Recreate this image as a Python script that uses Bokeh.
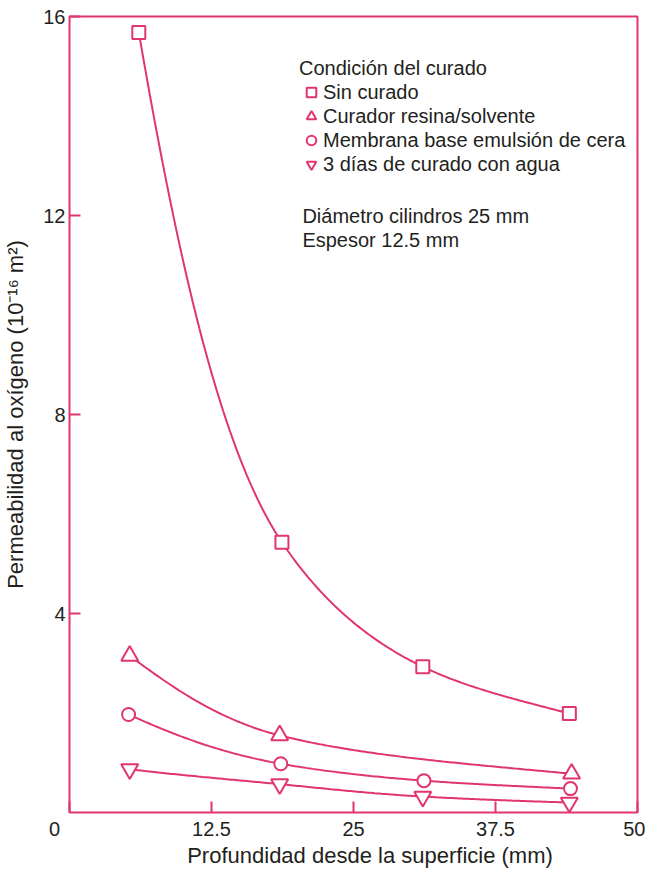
import numpy as np
from bokeh.plotting import figure
from bokeh.models import Label, Legend, LegendItem, FixedTicker
from bokeh.embed import file_html
from bokeh.resources import INLINE

# ---- data ----
x_sin = [6.1, 18.7, 31.1, 44.0]
y_sin = [15.68, 5.43, 2.93, 1.99]
x_res = [5.3, 18.5, 44.2]
y_res = [3.15, 1.55, 0.78]
x_mem = [5.2, 18.6, 31.2, 44.1]
y_mem = [1.97, 0.98, 0.64, 0.48]
x_agua = [5.3, 18.5, 31.1, 44.0]
y_agua = [0.87, 0.57, 0.32, 0.20]

series_names = ["Sin curado", "Curador resina/solvente",
                "Membrana base emulsión de cera", "3 días de curado con agua"]
x_ticks = [0, 12.5, 25, 37.5, 50]
y_ticks = [4, 8, 12, 16]

PINK = "#E0356F"
TXT = "#231F20"
FONT = "Liberation Sans"


def smooth(xs, ys, n=200):
    """Monotone cubic Hermite through the points in log space (for drawing)."""
    x = np.asarray(xs, float)
    y = np.log(np.asarray(ys, float))
    h = np.diff(x)
    d = np.diff(y) / h
    m = np.zeros_like(y)
    m[0], m[-1] = d[0], d[-1]
    for i in range(1, len(x) - 1):
        if d[i - 1] * d[i] <= 0:
            m[i] = 0
        else:
            w1 = 2 * h[i] + h[i - 1]
            w2 = h[i] + 2 * h[i - 1]
            m[i] = (w1 + w2) / (w1 / d[i - 1] + w2 / d[i])
    xx = np.linspace(x[0], x[-1], n)
    yy = np.empty_like(xx)
    for j, t in enumerate(xx):
        i = min(np.searchsorted(x, t, side="right") - 1, len(x) - 2)
        hh = h[i]
        s = (t - x[i]) / hh
        h00 = 2 * s**3 - 3 * s**2 + 1
        h10 = s**3 - 2 * s**2 + s
        h01 = -2 * s**3 + 3 * s**2
        h11 = s**3 - s**2
        yy[j] = h00 * y[i] + h10 * hh * m[i] + h01 * y[i + 1] + h11 * hh * m[i + 1]
    return xx, np.exp(yy)


p = figure(width=645, height=870, x_range=(0, 50), y_range=(0, 16),
           output_backend="svg", toolbar_location=None,
           min_border_left=68, min_border_right=8, min_border_top=16, min_border_bottom=58)
p.grid.visible = False
p.outline_line_color = PINK
p.outline_line_width = 2
p.background_fill_color = "white"
p.border_fill_color = "white"

for ax, ticks in ((p.xaxis[0], x_ticks), (p.yaxis[0], y_ticks)):
    ax.ticker = FixedTicker(ticks=ticks)
    ax.axis_line_color = None
    ax.major_tick_in = 11
    ax.major_tick_out = 0
    ax.minor_tick_line_color = None
    ax.major_tick_line_color = PINK
    ax.major_tick_line_width = 2
    ax.major_label_text_font = FONT
    ax.major_label_text_font_size = "20px"
    ax.major_label_text_color = TXT
    ax.axis_label_text_font = FONT
    ax.axis_label_text_font_style = "normal"
    ax.axis_label_text_color = TXT
# the shared corner "0" sits a little left of the corner
p.xaxis.major_label_overrides = {0: "0\u2003\u2002"}
p.xaxis.major_label_standoff = 5
p.yaxis.major_label_standoff = 4
p.xaxis.axis_label = "\u2003\u2002Profundidad desde la superficie (mm)"
p.xaxis.axis_label_text_font_size = "22px"
p.xaxis.axis_label_standoff = 0
p.yaxis.axis_label = "Permeabilidad al oxígeno (10⁻¹⁶ m²)"
p.yaxis.axis_label_text_font_size = "22px"
p.yaxis.axis_label_standoff = 12

renderers = []
data = [(x_sin, y_sin, "square"), (x_res, y_res, "triangle"),
        (x_mem, y_mem, "circle"), (x_agua, y_agua, "inverted_triangle")]
for xs, ys, mk in data:
    cx, cy = smooth(xs, ys)
    p.line(cx, cy, line_color=PINK, line_width=2)
for xs, ys, mk in data:
    size = {"square": 13, "triangle": 17, "circle": 13, "inverted_triangle": 17}[mk]
    r = p.scatter(xs, ys, marker=mk, size=size, fill_color="white",
                  line_color=PINK, line_width=2)
    renderers.append(r)

legend = Legend(items=[LegendItem(label=n, renderers=[r]) for n, r in zip(series_names, renderers)],
                location=(230, 636), title="Condición del curado",
                title_text_font=FONT, title_text_font_size="20px", title_text_font_style="normal",
                title_text_color=TXT, title_standoff=-6,
                label_text_font=FONT, label_text_font_size="20px", label_text_color=TXT,
                label_height=24, glyph_height=24, glyph_width=24, label_standoff=0,
                spacing=0, padding=0, margin=0, border_line_color=None,
                background_fill_alpha=0)
p.add_layout(legend)

for i, t in enumerate(["Diámetro cilindros 25 mm", "Espesor 12.5 mm"]):
    p.add_layout(Label(x=20.5, y=12, y_offset=-i * 24, text=t, text_font=FONT,
                       text_font_size="20px", text_color=TXT,
                       text_baseline="middle", text_align="left"))

open("out.html", "w").write(file_html(p, INLINE))
